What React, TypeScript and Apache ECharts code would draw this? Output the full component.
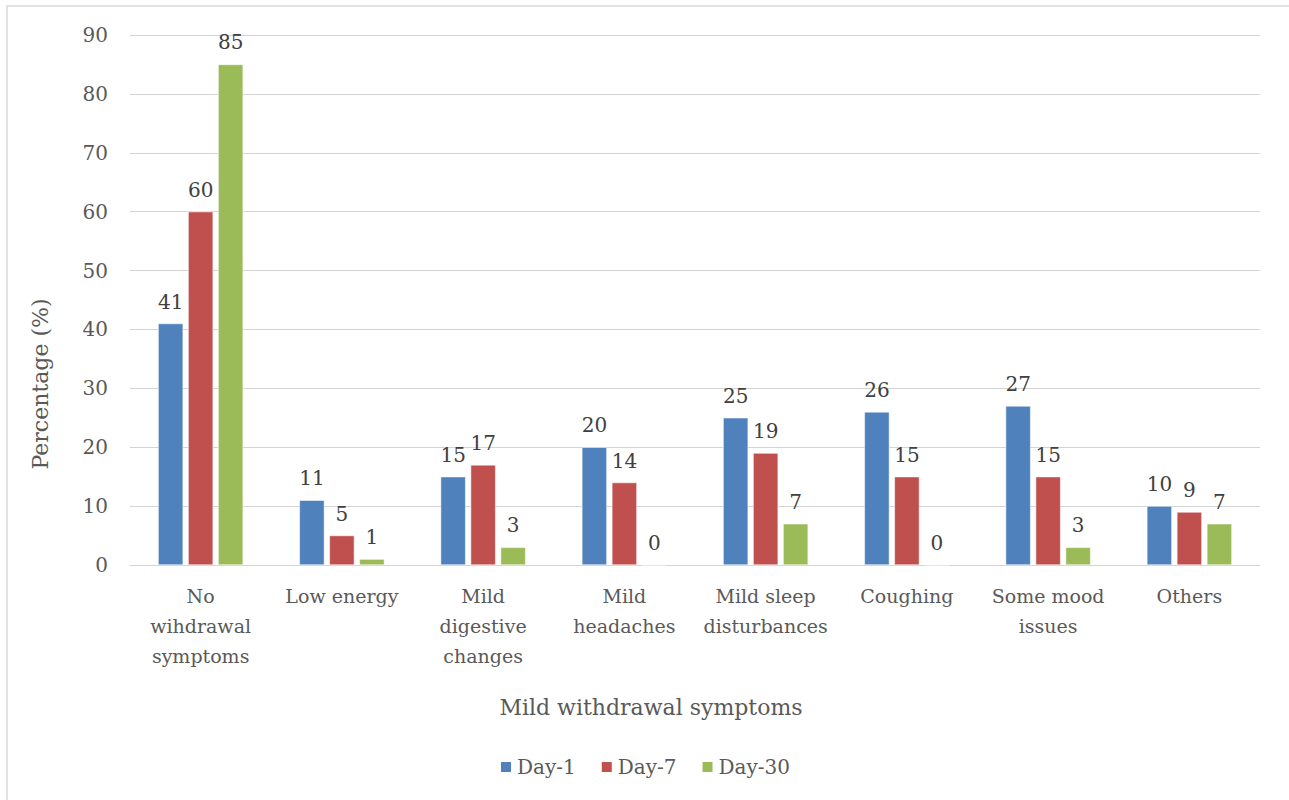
import React, { useEffect, useRef } from "react";
import * as echarts from "echarts";

const categories = [
  "No\nwihdrawal\nsymptoms",
  "Low energy",
  "Mild\ndigestive\nchanges",
  "Mild\nheadaches",
  "Mild sleep\ndisturbances",
  "Coughing",
  "Some mood\nissues",
  "Others",
];
const day1 = [41, 11, 15, 20, 25, 26, 27, 10];
const day7 = [60, 5, 17, 14, 19, 15, 15, 9];
const day30 = [85, 1, 3, 0, 7, 0, 3, 7];
const seriesNames = ["Day-1", "Day-7", "Day-30"];
const colors = ["#4F81BD", "#C0504D", "#9BBB59"];
const FONT = "DejaVu Serif";

export default function App() {
  const ref = useRef<HTMLDivElement>(null);
  useEffect(() => {
    if (!ref.current) return;
    const chart = echarts.init(ref.current, undefined, { renderer: "svg" });
    const data = [day1, day7, day30];
    chart.setOption({
      animation: false,
      textStyle: { fontFamily: FONT },
      graphic: [
        {
          type: "rect",
          shape: { x: 7, y: 6, width: 1300, height: 820 },
          style: { fill: "none", stroke: "#d9d9d9", lineWidth: 1.5 },
          silent: true,
        },
        {
          type: "text",
          x: 651,
          y: 707,
          style: {
            text: "Mild withdrawal symptoms",
            font: `22px '${FONT}'`,
            fill: "#595959",
            textAlign: "center",
            textVerticalAlign: "middle",
          },
        },
        {
          type: "text",
          x: 40,
          y: 384,
          rotation: Math.PI / 2,
          style: {
            text: "Percentage (%)",
            font: `22px '${FONT}'`,
            fill: "#595959",
            textAlign: "center",
            textVerticalAlign: "middle",
          },
        },
      ],
      legend: {
        data: seriesNames,
        left: "center",
        top: 752,
        itemWidth: 12,
        itemHeight: 12,
        itemGap: 24,
        icon: "rect",
        textStyle: { fontFamily: FONT, fontSize: 20, color: "#595959" },
      },
      grid: { left: 130, right: 29, top: 35, bottom: 235, containLabel: false },
      xAxis: {
        type: "category",
        data: categories,
        axisLine: { lineStyle: { color: "#d4d4d4" } },
        axisTick: { show: false },
        axisLabel: {
          interval: 0,
          fontFamily: FONT,
          fontSize: 19,
          color: "#595959",
          lineHeight: 30,
          margin: 16,
        },
      },
      yAxis: {
        type: "value",
        min: 0,
        max: 90,
        interval: 10,
        axisLine: { show: false },
        axisTick: { show: false },
        axisLabel: { fontFamily: FONT, fontSize: 20, color: "#595959", margin: 22 },
        splitLine: { lineStyle: { color: "#d4d4d4", width: 1 } },
      },
      series: seriesNames.map((name, i) => ({
        name,
        type: "bar",
        data: data[i],
        barWidth: 25,
        barGap: "20%",
        itemStyle: { color: colors[i], borderColor: "#ffffff", borderWidth: 0.5 },
        label: {
          show: true,
          position: "top",
          distance: 12,
          fontFamily: FONT,
          fontSize: 20,
          color: "#404040",
        },
      })),
    });
    return () => chart.dispose();
  }, []);
  return (
    <div
      ref={ref}
      style={{ position: "absolute", left: 0, top: 0, width: 1289, height: 800 }}
    />
  );
}
